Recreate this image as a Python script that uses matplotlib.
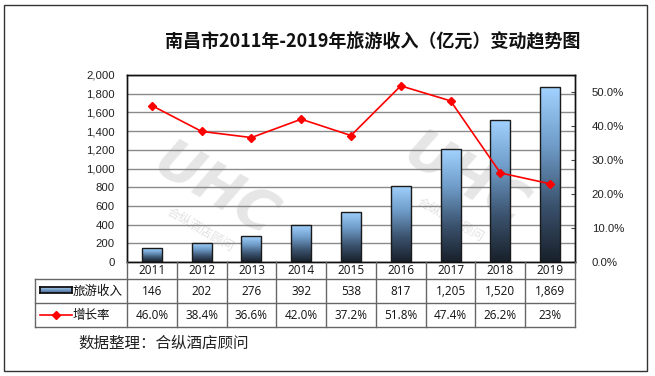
import matplotlib
matplotlib.use("Agg")
import matplotlib.pyplot as plt
import matplotlib.transforms as mtransforms
from matplotlib.patches import Rectangle
from matplotlib.lines import Line2D
from matplotlib.colors import LinearSegmentedColormap
from matplotlib.ticker import FuncFormatter, MultipleLocator
import numpy as np

plt.rcParams['font.family'] = ['Liberation Sans', 'Noto Sans CJK SC', 'DejaVu Sans']

# ---- data ----
years = ['2011', '2012', '2013', '2014', '2015', '2016', '2017', '2018', '2019']
revenue = [146, 202, 276, 392, 538, 817, 1205, 1520, 1869]
growth = [0.460, 0.384, 0.366, 0.420, 0.372, 0.518, 0.474, 0.262, 0.23]
growth_labels = ['46.0%', '38.4%', '36.6%', '42.0%', '37.2%', '51.8%', '47.4%', '26.2%', '23%']
title = '南昌市2011年-2019年旅游收入（亿元）变动趋势图'
series_names = ['旅游收入', '增长率']
source = '数据整理：合纵酒店顾问'

W, H = 655, 376
fig = plt.figure(figsize=(W / 100, H / 100), dpi=100)
fig.patch.set_facecolor('white')

def fx(x):
    return x / W

def fy(y):
    return 1 - y / H

# outer border
fig.add_artist(Rectangle((fx(4), fy(371)), fx(643), (366) / H, transform=fig.transFigure,
                         fill=False, edgecolor='#333333', linewidth=1.0))

L, R, T, B = 127, 575, 75, 262
ax = fig.add_axes([fx(L), fy(B), (R - L) / W, (B - T) / H])
ax2 = ax.twinx()

x = np.arange(len(years))
ax.set_xlim(-0.5, len(years) - 0.5)
ax.set_ylim(0, 2000)
ax.yaxis.set_major_locator(MultipleLocator(200))
ax.yaxis.set_major_formatter(FuncFormatter(lambda v, p: f'{int(v):,}'))
ax.grid(axis='y', color='#8a8a8a', linewidth=1.0)
ax.set_axisbelow(True)
ax.set_xticks([])
ax.tick_params(axis='y', length=0, pad=9, labelsize=8.2, labelcolor='#222222')
for s in ax.spines.values():
    s.set_color('#111111')
    s.set_linewidth(1.0)

# watermark
for cx, cy in [(215, 190), (465, 180)]:
    ax.text(fx(cx), fy(cy), 'UHC', transform=fig.transFigure, fontsize=40, fontweight='bold',
            fontstyle='italic', color='#e6e6e6', rotation=-30, ha='center', va='center',
            zorder=0.5, family=['DejaVu Sans'])
    ax.text(fx(cx - 15), fy(cy + 40), '合纵酒店顾问', transform=fig.transFigure, fontsize=9,
            color='#e2e2e2', rotation=-30, ha='center', va='center', zorder=0.5,
            family=['Noto Sans CJK SC'])

cmap = LinearSegmentedColormap.from_list('barg', ['#18202a', '#3c5470', '#6f9cc8', '#a2d2ff'])
bars = ax.bar(x, revenue, width=0.4, facecolor='none', edgecolor='#1a1a1a', linewidth=1.0, zorder=3)
grad = np.linspace(0, 1, 256).reshape(-1, 1)
for b in bars:
    x0, w, h = b.get_x(), b.get_width(), b.get_height()
    im = ax.imshow(grad, extent=(x0, x0 + w, 0, h), origin='lower', cmap=cmap,
                   aspect='auto', zorder=2.5)
    im.set_clip_path(b)
ax.set_xlim(-0.5, len(years) - 0.5)
ax.set_ylim(0, 2000)

ax2.set_ylim(0, 0.55)
ax2.yaxis.set_major_locator(MultipleLocator(0.1))
ax2.yaxis.set_major_formatter(FuncFormatter(lambda v, p: f'{v * 100:.1f}%'))
ax2.tick_params(axis='y', length=3, direction='in', pad=12, labelsize=8.2, labelcolor='#222222',
                color='#444444')
ax2.plot(x, growth, color='#ff0000', linewidth=1.2, marker='D', markersize=4.2, zorder=5)
for s in ax2.spines.values():
    s.set_color('#111111')
    s.set_linewidth(1.0)

# title
fig.text(fx(373), fy(42), title, ha='center', va='center', fontsize=13, fontweight='bold',
         family=['Noto Sans CJK SC'], color='#111111')

# ---- data table ----
bt = mtransforms.blended_transform_factory(ax.transData, fig.transFigure)
lc = '#666666'
row_y = [262, 279, 303, 327]
tfont = ['Open Sans', 'Noto Sans CJK SC']
n = len(years)
for yy in row_y[1:]:
    fig.add_artist(Line2D([fx(35), fx(R)], [fy(yy), fy(yy)], transform=fig.transFigure,
                          color=lc, linewidth=1.0))
for i in range(n + 1):
    fig.add_artist(Line2D([i - 0.5, i - 0.5], [fy(262), fy(327)], transform=bt,
                          color=lc, linewidth=1.0))
fig.add_artist(Line2D([fx(35), fx(35)], [fy(279), fy(327)], transform=fig.transFigure,
                      color=lc, linewidth=1.0))

for i in range(n):
    fig.text(x[i], fy(270.5), years[i], transform=bt, ha='center', va='center',
             fontsize=8.5, family=tfont, color='#111111')
    fig.text(x[i], fy(291.5), f'{revenue[i]:,}', transform=bt, ha='center', va='center',
             fontsize=8.5, family=tfont, color='#111111')
    fig.text(x[i], fy(315.5), growth_labels[i], transform=bt, ha='center', va='center',
             fontsize=8.5, family=tfont, color='#111111')

# legend keys
key = fig.add_axes([fx(40), fy(292.5), fx(32), 5.5 / H])
key.imshow(np.linspace(1, 0, 20).reshape(-1, 1),
           cmap=LinearSegmentedColormap.from_list('k2', ['#3f6590', '#a9cdf0']), aspect='auto',
           extent=(0, 1, 0, 1))
key.set_xticks([]); key.set_yticks([])
for s in key.spines.values():
    s.set_color('#111111'); s.set_linewidth(1.3)
fig.add_artist(Line2D([fx(40), fx(72)], [fy(314.5), fy(314.5)], transform=fig.transFigure,
                      color='#ff0000', linewidth=1.2))
fig.add_artist(Line2D([fx(56)], [fy(314.5)], transform=fig.transFigure, color='#ff0000',
                      marker='D', markersize=4))
fig.text(fx(73), fy(291.5), series_names[0], ha='left', va='center', fontsize=9,
         family=['Noto Sans CJK SC'], color='#111111')
fig.text(fx(73), fy(315.5), series_names[1], ha='left', va='center', fontsize=9,
         family=['Noto Sans CJK SC'], color='#111111')

fig.text(fx(78), fy(343), source, ha='left', va='center', fontsize=11.2,
         family=['Noto Sans CJK SC'], color='#222222')

fig.savefig('out.png', dpi=100, facecolor='white')
